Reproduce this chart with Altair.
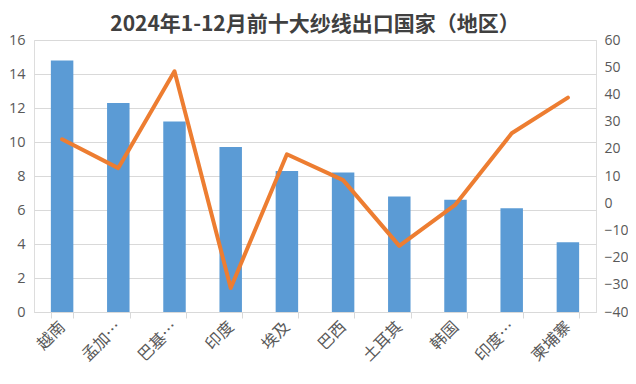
import altair as alt
import pandas as pd

countries = ["越南", "孟加…", "巴基…", "印度", "埃及", "巴西", "土耳其", "韩国", "印度…", "柬埔寨"]
export_qty = [14.8, 12.3, 11.2, 9.7, 8.3, 8.2, 6.8, 6.6, 6.1, 4.1]
yoy_growth = [23.5, 12.9, 48.5, -31.2, 18.0, 8.5, -15.7, -0.5, 25.7, 38.8]

df = pd.DataFrame({"country": countries, "qty": export_qty, "yoy": yoy_growth})

num_font = "Open Sans"
cjk_font = "Noto Sans CJK SC"
grey = "#595959"

x_enc = alt.X(
    "country:N",
    sort=None,
    title=None,
    scale=alt.Scale(paddingInner=0.6, paddingOuter=0.3),
    axis=alt.Axis(
        labelAngle=-45,
        labelAlign="right",
        labelBaseline="middle",
        labelFont=cjk_font,
        labelFontSize=16,
        labelColor=grey,
        labelPadding=6,
        tickBand="extent",
        tickColor="#d9d9d9",
        tickSize=6,
        domainColor="#d9d9d9",
        grid=False,
    ),
)

bars = alt.Chart(df).mark_bar(color="#5B9BD5").encode(
    x=x_enc,
    y=alt.Y(
        "qty:Q",
        title=None,
        scale=alt.Scale(domain=[0, 16], nice=False),
        axis=alt.Axis(
            values=list(range(0, 17, 2)),
            grid=True,
            gridColor="#d9d9d9",
            domain=False,
            ticks=False,
            labelFont=num_font,
            labelFontSize=14.5,
            labelColor=grey,
            labelPadding=9,
        ),
    ),
)

line = alt.Chart(df).mark_line(
    color="#ED7D31", strokeWidth=4, strokeJoin="round", strokeCap="round"
).encode(
    x=alt.X("country:N", sort=None),
    y=alt.Y(
        "yoy:Q",
        title=None,
        scale=alt.Scale(domain=[-40, 60], nice=False),
        axis=alt.Axis(
            orient="right",
            values=list(range(-40, 61, 10)),
            grid=False,
            domain=False,
            ticks=False,
            labelFont=num_font,
            labelFontSize=14,
            labelColor=grey,
            labelPadding=8,
        ),
    ),
)

chart = (
    alt.layer(bars, line)
    .resolve_scale(y="independent")
    .properties(
        width=562,
        height=272,
        autosize=alt.AutoSizeParams(type="none"),
        padding={"left": 26, "top": 32, "right": 32, "bottom": 64},
        title=alt.TitleParams(
            "2024年1-12月前十大纱线出口国家（地区）",
            font=cjk_font,
            fontSize=21,
            fontWeight="bold",
            color="#404040",
            anchor="middle",
            offset=0,
            dy=3,
        ),
    )
    .configure_view(stroke=None)
    .configure(background="white")
)

chart.save("out.html", embed_options={"renderer": "svg", "actions": False})
